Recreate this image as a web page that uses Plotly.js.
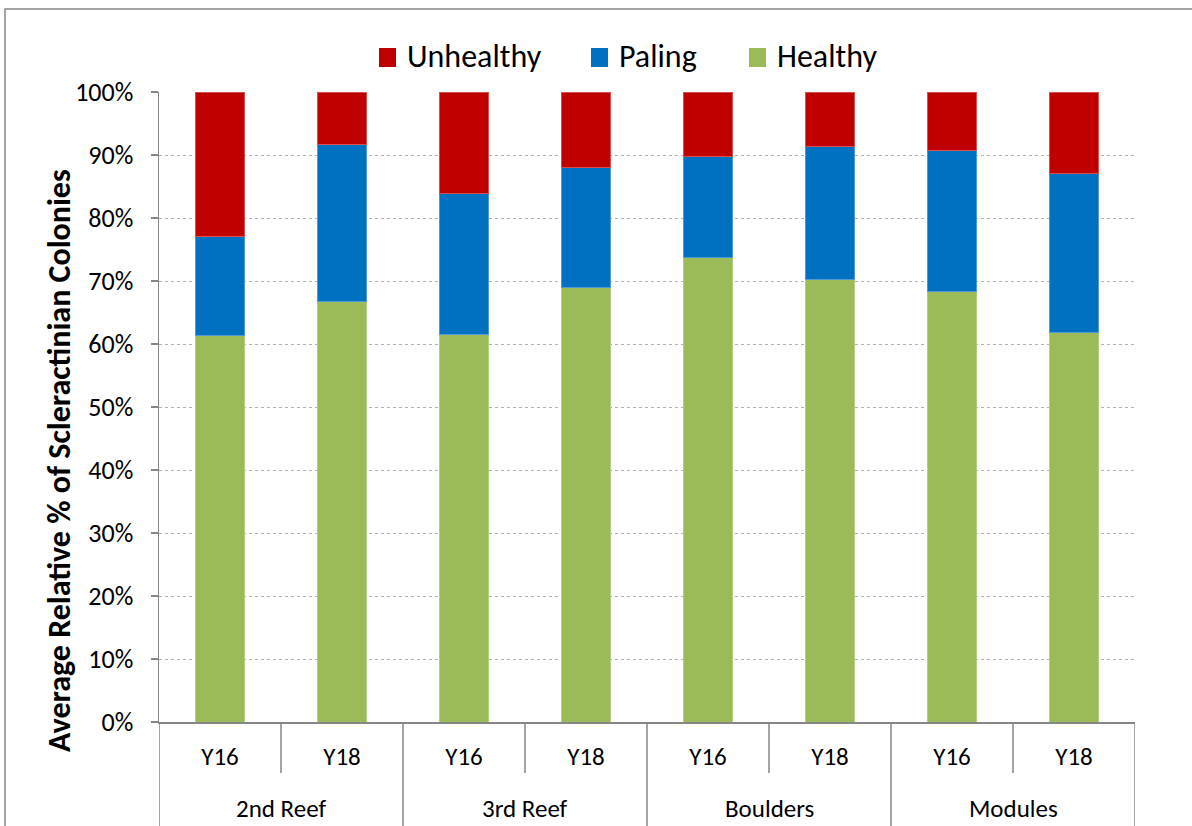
<!DOCTYPE html>
<html>
<head>
<meta charset="utf-8">
<script src="https://cdn.plot.ly/plotly-3.0.1.min.js"></script>
<style>
html,body{margin:0;padding:0;background:#fff;}
#chart{width:1192px;height:826px;}
</style>
</head>
<body>
<div id="chart"></div>
<script>
// ---- data ----
var years = ["Y16", "Y18", "Y16", "Y18", "Y16", "Y18", "Y16", "Y18"];
var sites = ["2nd Reef", "3rd Reef", "Boulders", "Modules"];
var healthy = [61.4, 66.7, 61.5, 69.0, 73.8, 70.3, 68.3, 61.8];
var paling = [15.7, 25.0, 22.4, 19.0, 16.0, 21.0, 22.4, 25.3];
var unhealthy = [22.9, 8.3, 16.1, 12.0, 10.2, 8.7, 9.3, 12.9];
var seriesNames = ["Unhealthy", "Paling", "Healthy"];
var seriesColors = ["#C00000", "#0070C0", "#9BBB59"];
var yTitle = "Average Relative % of Scleractinian Colonies";

var FONT = "Carlito, Calibri, Lato, 'Open Sans', sans-serif";
var GRAY = "#868686";

// plot-area geometry (pixels) used to convert decoration positions to paper units
var L = 159, R = 1135, T = 92, B = 722;
function px(x) { return (x - L) / (R - L); }
function py(y) { return (B - y) / (B - T); }

var xs = years.map(function (_, i) { return i; });

function barTrace(name, vals, color, edge) {
  return {
    type: "bar", name: name, x: xs, y: vals, showlegend: false,
    marker: { color: color, line: { color: edge, width: 1 } },
    hoverinfo: "name+y"
  };
}

var traces = [
  barTrace(seriesNames[2], healthy, seriesColors[2], "#b5cf82"),
  barTrace(seriesNames[1], paling, seriesColors[1], "#4f9ad6"),
  barTrace(seriesNames[0], unhealthy, seriesColors[0], "#d65050")
];

// ---- decorations (separators, group labels, frame, legend) ----
var shapes = [];
var annotations = [];
for (var g = 0; g < sites.length; g++) {
  var first = g * 2;
  shapes.push({ type: "line", xref: "x", yref: "paper", x0: first + 0.5, x1: first + 0.5, y0: 0, y1: py(773),
    line: { color: GRAY, width: 1.5 } });
  shapes.push({ type: "line", xref: "x", yref: "paper", x0: first + 1.5, x1: first + 1.5, y0: 0, y1: py(840),
    line: { color: GRAY, width: 1.5 } });
  annotations.push({ xref: "x", yref: "paper", x: first + 0.5, y: py(808), text: sites[g], showarrow: false,
    xanchor: "center", yanchor: "middle", font: { family: FONT, size: 25, color: "#000" } });
}
shapes.push({ type: "line", xref: "x", yref: "paper", x0: -0.5, x1: -0.5, y0: 0, y1: py(840),
  line: { color: GRAY, width: 1.5 } });
// outer chart frame
shapes.push({ type: "rect", xref: "paper", yref: "paper", x0: px(5), x1: px(1200), y0: py(840), y1: py(9),
  line: { color: GRAY, width: 1.5 }, fillcolor: "rgba(0,0,0,0)", layer: "below" });

// legend (Unhealthy, Paling, Healthy)
var legSquareLeft = [379, 591, 749];
for (var k = 0; k < seriesNames.length; k++) {
  shapes.push({ type: "rect", xref: "paper", yref: "paper",
    x0: px(legSquareLeft[k]), x1: px(legSquareLeft[k] + 17), y0: py(67), y1: py(48),
    fillcolor: seriesColors[k], line: { width: 0 } });
  annotations.push({ xref: "paper", yref: "paper", x: px(legSquareLeft[k] + 26), y: py(57),
    text: seriesNames[k], showarrow: false, xanchor: "left", yanchor: "middle",
    font: { family: FONT, size: 32, color: "#000" } });
}

annotations.push({ xref: "paper", yref: "paper", x: px(60), y: py(461), text: "<b>" + yTitle + "</b>",
  textangle: -90, showarrow: false, xanchor: "center", yanchor: "middle",
  font: { family: FONT, size: 32, color: "#000" } });

var layout = {
  width: 1192, height: 826,
  margin: { l: L, r: 1192 - R, t: T, b: 826 - B, pad: 0 },
  paper_bgcolor: "#fff", plot_bgcolor: "#fff",
  barmode: "stack", bargap: 0.6,
  font: { family: FONT, size: 20, color: "#000" },
  showlegend: false,
  xaxis: {
    type: "linear", range: [-0.5, 7.5],
    tickmode: "array", tickvals: xs, ticktext: years,
    ticks: "", ticklabelstandoff: 11,
    showgrid: false, zeroline: false,
    showline: true, linecolor: GRAY, linewidth: 1.5,
    tickfont: { family: FONT, size: 25, color: "#000" },
    fixedrange: true
  },
  yaxis: {
    range: [0, 100], dtick: 10, ticksuffix: "%",
    ticks: "outside", ticklen: 7, tickcolor: GRAY, tickwidth: 1.5,
    ticklabelstandoff: 12,
    showline: true, linecolor: GRAY, linewidth: 1.5,
    showgrid: true, gridcolor: "#b0b0b0", griddash: "dot", gridwidth: 1,
    zeroline: false,
    tickfont: { family: FONT, size: 26, color: "#000" },
    fixedrange: true
  },
  shapes: shapes,
  annotations: annotations
};

Plotly.newPlot("chart", traces, layout, { displayModeBar: false, staticPlot: true });
</script>
</body>
</html>
